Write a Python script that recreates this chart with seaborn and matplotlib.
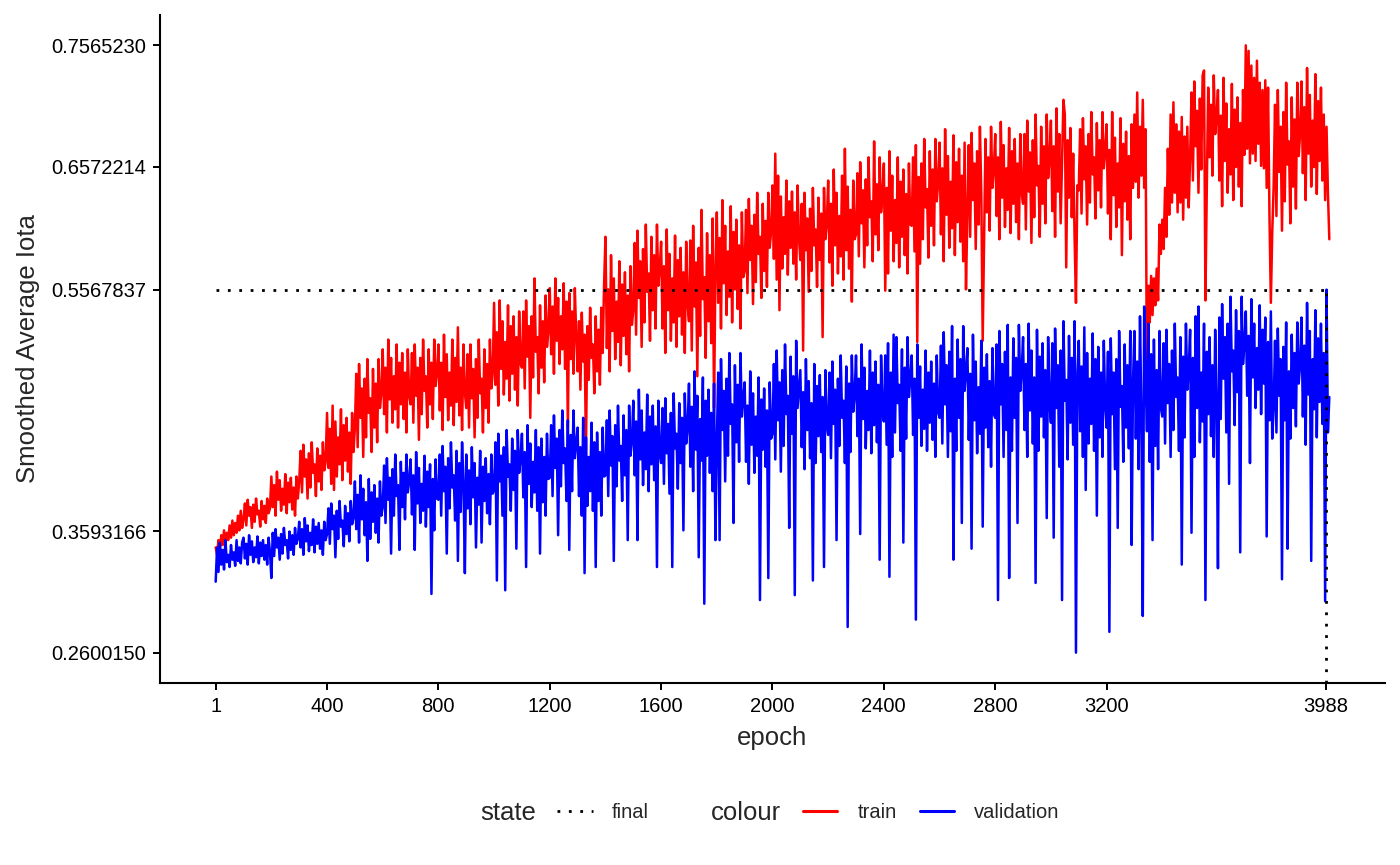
import numpy as np
import pandas as pd
import matplotlib
matplotlib.use('Agg')
import matplotlib.pyplot as plt
import seaborn as sns
from matplotlib.lines import Line2D

# values, one row per 100 epochs (20 readings each)
train_iota = [
    0.346, 0.340, 0.352, 0.344, 0.356, 0.348, 0.360, 0.350, 0.358, 0.352, 0.364, 0.354, 0.368, 0.356, 0.366, 0.358, 0.372, 0.360, 0.376, 0.362,
    0.369, 0.382, 0.364, 0.385, 0.372, 0.379, 0.362, 0.381, 0.367, 0.386, 0.373, 0.376, 0.363, 0.384, 0.369, 0.380, 0.366, 0.386, 0.374, 0.378,
    0.404, 0.379, 0.397, 0.372, 0.408, 0.385, 0.401, 0.376, 0.394, 0.381, 0.406, 0.374, 0.399, 0.383, 0.403, 0.377, 0.395, 0.372, 0.404, 0.386,
    0.400, 0.425, 0.391, 0.430, 0.404, 0.418, 0.386, 0.423, 0.395, 0.432, 0.407, 0.414, 0.388, 0.427, 0.400, 0.421, 0.393, 0.432, 0.409, 0.416,
    0.456, 0.411, 0.443, 0.398, 0.462, 0.393, 0.449, 0.404, 0.436, 0.414, 0.459, 0.401, 0.446, 0.417, 0.452, 0.408, 0.440, 0.398, 0.456, 0.424,
    0.444, 0.488, 0.428, 0.496, 0.452, 0.476, 0.420, 0.484, 0.436, 0.500, 0.456, 0.468, 0.424, 0.492, 0.444, 0.480, 0.432, 0.500, 0.460, 0.472,
    0.508, 0.455, 0.493, 0.440, 0.516, 0.467, 0.501, 0.448, 0.486, 0.459, 0.512, 0.444, 0.497, 0.463, 0.505, 0.451, 0.489, 0.440, 0.508, 0.470,
    0.463, 0.505, 0.448, 0.512, 0.470, 0.493, 0.434, 0.501, 0.455, 0.516, 0.474, 0.486, 0.444, 0.508, 0.463, 0.497, 0.451, 0.516, 0.478, 0.489,
    0.512, 0.458, 0.497, 0.442, 0.520, 0.469, 0.504, 0.450, 0.489, 0.462, 0.516, 0.446, 0.501, 0.465, 0.526, 0.454, 0.493, 0.442, 0.512, 0.473,
    0.460, 0.504, 0.444, 0.512, 0.468, 0.492, 0.436, 0.500, 0.452, 0.516, 0.472, 0.484, 0.440, 0.508, 0.460, 0.496, 0.448, 0.516, 0.476, 0.488,
    0.546, 0.479, 0.522, 0.462, 0.548, 0.492, 0.531, 0.471, 0.514, 0.484, 0.544, 0.466, 0.527, 0.488, 0.535, 0.475, 0.518, 0.462, 0.539, 0.496,
    0.493, 0.539, 0.476, 0.548, 0.502, 0.527, 0.452, 0.535, 0.485, 0.566, 0.506, 0.518, 0.472, 0.544, 0.493, 0.531, 0.481, 0.552, 0.510, 0.523,
    0.558, 0.504, 0.543, 0.488, 0.566, 0.515, 0.550, 0.496, 0.535, 0.508, 0.562, 0.492, 0.547, 0.444, 0.554, 0.500, 0.539, 0.488, 0.558, 0.519,
    0.490, 0.531, 0.475, 0.538, 0.498, 0.520, 0.426, 0.527, 0.483, 0.542, 0.501, 0.512, 0.472, 0.535, 0.490, 0.524, 0.479, 0.542, 0.505, 0.560,
    0.600, 0.509, 0.557, 0.490, 0.585, 0.523, 0.566, 0.500, 0.547, 0.514, 0.580, 0.495, 0.561, 0.519, 0.571, 0.504, 0.552, 0.490, 0.576, 0.528,
    0.540, 0.595, 0.520, 0.605, 0.550, 0.580, 0.510, 0.590, 0.530, 0.610, 0.555, 0.570, 0.515, 0.600, 0.540, 0.585, 0.525, 0.610, 0.560, 0.575,
    0.596, 0.525, 0.576, 0.505, 0.606, 0.540, 0.586, 0.515, 0.566, 0.530, 0.601, 0.510, 0.581, 0.535, 0.591, 0.520, 0.571, 0.505, 0.596, 0.545,
    0.531, 0.597, 0.507, 0.609, 0.543, 0.579, 0.486, 0.591, 0.519, 0.622, 0.549, 0.567, 0.501, 0.603, 0.531, 0.585, 0.513, 0.615, 0.460, 0.573,
    0.620, 0.546, 0.599, 0.525, 0.630, 0.562, 0.609, 0.536, 0.588, 0.551, 0.625, 0.530, 0.604, 0.557, 0.614, 0.541, 0.593, 0.525, 0.620, 0.567,
    0.572, 0.622, 0.554, 0.631, 0.581, 0.609, 0.545, 0.618, 0.563, 0.636, 0.586, 0.600, 0.550, 0.627, 0.572, 0.613, 0.559, 0.636, 0.591, 0.604,
    0.642, 0.582, 0.668, 0.565, 0.650, 0.540, 0.633, 0.574, 0.616, 0.586, 0.646, 0.569, 0.629, 0.591, 0.637, 0.578, 0.620, 0.565, 0.642, 0.599,
    0.581, 0.627, 0.507, 0.636, 0.589, 0.615, 0.555, 0.623, 0.572, 0.640, 0.593, 0.606, 0.559, 0.632, 0.581, 0.619, 0.518, 0.640, 0.598, 0.610,
    0.646, 0.579, 0.627, 0.560, 0.655, 0.593, 0.636, 0.570, 0.617, 0.584, 0.650, 0.565, 0.672, 0.589, 0.641, 0.574, 0.622, 0.547, 0.646, 0.598,
    0.602, 0.652, 0.584, 0.661, 0.611, 0.638, 0.575, 0.647, 0.593, 0.665, 0.616, 0.629, 0.580, 0.678, 0.602, 0.643, 0.589, 0.665, 0.620, 0.634,
    0.660, 0.556, 0.640, 0.570, 0.670, 0.605, 0.650, 0.580, 0.630, 0.595, 0.665, 0.575, 0.645, 0.600, 0.655, 0.585, 0.635, 0.570, 0.660, 0.610,
    0.609, 0.665, 0.588, 0.675, 0.514, 0.649, 0.578, 0.660, 0.598, 0.680, 0.624, 0.639, 0.583, 0.670, 0.609, 0.655, 0.593, 0.680, 0.629, 0.644,
    0.677, 0.602, 0.656, 0.580, 0.688, 0.618, 0.666, 0.591, 0.645, 0.607, 0.683, 0.585, 0.661, 0.612, 0.672, 0.596, 0.650, 0.580, 0.677, 0.557,
    0.620, 0.675, 0.600, 0.685, 0.630, 0.660, 0.590, 0.670, 0.610, 0.690, 0.635, 0.515, 0.595, 0.680, 0.620, 0.665, 0.605, 0.690, 0.640, 0.655,
    0.684, 0.617, 0.665, 0.598, 0.694, 0.632, 0.675, 0.608, 0.656, 0.622, 0.689, 0.603, 0.670, 0.627, 0.680, 0.612, 0.660, 0.598, 0.684, 0.636,
    0.627, 0.684, 0.606, 0.695, 0.637, 0.669, 0.595, 0.679, 0.616, 0.700, 0.642, 0.658, 0.600, 0.690, 0.627, 0.674, 0.611, 0.700, 0.648, 0.663,
    0.695, 0.621, 0.674, 0.600, 0.705, 0.637, 0.684, 0.611, 0.663, 0.712, 0.700, 0.575, 0.679, 0.632, 0.689, 0.616, 0.668, 0.600, 0.546, 0.642,
    0.638, 0.688, 0.619, 0.697, 0.647, 0.674, 0.610, 0.684, 0.628, 0.702, 0.651, 0.665, 0.615, 0.693, 0.638, 0.679, 0.624, 0.702, 0.656, 0.670,
    0.692, 0.619, 0.671, 0.598, 0.702, 0.634, 0.681, 0.608, 0.660, 0.624, 0.697, 0.585, 0.676, 0.629, 0.686, 0.614, 0.666, 0.598, 0.692, 0.640,
    0.700, 0.645, 0.718, 0.632, 0.690, 0.650, 0.712, 0.640, 0.688, 0.478, 0.560, 0.530, 0.568, 0.536, 0.566, 0.544, 0.574, 0.548, 0.610, 0.586,
    0.614, 0.590, 0.640, 0.600, 0.672, 0.618, 0.700, 0.628, 0.710, 0.636, 0.692, 0.620, 0.686, 0.628, 0.698, 0.614, 0.682, 0.632, 0.690, 0.624,
    0.665, 0.718, 0.646, 0.727, 0.674, 0.703, 0.636, 0.713, 0.655, 0.732, 0.736, 0.548, 0.641, 0.722, 0.665, 0.708, 0.650, 0.732, 0.684, 0.698,
    0.720, 0.646, 0.699, 0.625, 0.730, 0.662, 0.709, 0.636, 0.688, 0.651, 0.725, 0.630, 0.704, 0.657, 0.714, 0.641, 0.693, 0.625, 0.720, 0.667,
    0.756523, 0.672, 0.752, 0.660, 0.740, 0.668, 0.730, 0.662, 0.744, 0.676, 0.726, 0.658, 0.720, 0.656, 0.728, 0.640, 0.722, 0.618, 0.546, 0.604,
    0.641, 0.708, 0.617, 0.720, 0.653, 0.690, 0.605, 0.702, 0.629, 0.726, 0.659, 0.678, 0.611, 0.714, 0.641, 0.696, 0.623, 0.726, 0.666, 0.684,
    0.727, 0.652, 0.706, 0.630, 0.738, 0.668, 0.716, 0.641, 0.695, 0.657, 0.733, 0.635, 0.711, 0.662, 0.722, 0.646, 0.700, 0.630, 0.690, 0.636,
    0.598,
]

validation_iota = [
    0.318, 0.346, 0.326, 0.350, 0.332, 0.344, 0.328, 0.352, 0.334, 0.340, 0.330, 0.348, 0.336, 0.342, 0.331, 0.352, 0.335, 0.346, 0.333, 0.350,
    0.354, 0.337, 0.349, 0.332, 0.356, 0.340, 0.351, 0.334, 0.346, 0.338, 0.355, 0.333, 0.350, 0.339, 0.352, 0.336, 0.348, 0.332, 0.354, 0.342,
    0.321, 0.358, 0.339, 0.361, 0.346, 0.354, 0.336, 0.357, 0.341, 0.362, 0.348, 0.352, 0.337, 0.359, 0.344, 0.356, 0.340, 0.362, 0.349, 0.353,
    0.367, 0.346, 0.361, 0.340, 0.370, 0.351, 0.364, 0.343, 0.358, 0.348, 0.369, 0.342, 0.363, 0.349, 0.366, 0.345, 0.360, 0.340, 0.367, 0.352,
    0.357, 0.378, 0.349, 0.382, 0.361, 0.372, 0.338, 0.376, 0.353, 0.384, 0.363, 0.368, 0.347, 0.380, 0.357, 0.374, 0.351, 0.384, 0.365, 0.370,
    0.400, 0.361, 0.389, 0.350, 0.405, 0.369, 0.394, 0.356, 0.383, 0.335, 0.402, 0.353, 0.391, 0.367, 0.397, 0.358, 0.386, 0.350, 0.400, 0.372,
    0.379, 0.413, 0.366, 0.419, 0.385, 0.403, 0.341, 0.410, 0.372, 0.422, 0.388, 0.397, 0.344, 0.416, 0.379, 0.407, 0.369, 0.422, 0.391, 0.400,
    0.418, 0.373, 0.405, 0.344, 0.424, 0.382, 0.411, 0.366, 0.398, 0.376, 0.421, 0.363, 0.408, 0.379, 0.414, 0.308, 0.402, 0.360, 0.418, 0.386,
    0.385, 0.422, 0.372, 0.429, 0.392, 0.412, 0.341, 0.419, 0.378, 0.432, 0.395, 0.405, 0.368, 0.425, 0.335, 0.415, 0.375, 0.432, 0.399, 0.325,
    0.422, 0.378, 0.409, 0.365, 0.428, 0.387, 0.415, 0.346, 0.403, 0.381, 0.425, 0.350, 0.412, 0.384, 0.419, 0.374, 0.406, 0.365, 0.422, 0.390,
    0.393, 0.432, 0.319, 0.439, 0.400, 0.421, 0.372, 0.428, 0.311, 0.442, 0.404, 0.414, 0.376, 0.435, 0.393, 0.425, 0.345, 0.442, 0.407, 0.418,
    0.439, 0.387, 0.424, 0.330, 0.446, 0.398, 0.431, 0.379, 0.416, 0.391, 0.442, 0.376, 0.428, 0.341, 0.435, 0.383, 0.420, 0.372, 0.439, 0.402,
    0.403, 0.446, 0.388, 0.454, 0.411, 0.435, 0.356, 0.442, 0.396, 0.458, 0.415, 0.427, 0.384, 0.450, 0.344, 0.438, 0.392, 0.458, 0.419, 0.431,
    0.444, 0.388, 0.428, 0.372, 0.452, 0.325, 0.436, 0.380, 0.420, 0.392, 0.448, 0.376, 0.432, 0.330, 0.440, 0.384, 0.424, 0.372, 0.444, 0.404,
    0.405, 0.450, 0.388, 0.458, 0.413, 0.437, 0.335, 0.446, 0.396, 0.462, 0.417, 0.429, 0.384, 0.454, 0.405, 0.442, 0.352, 0.462, 0.421, 0.433,
    0.466, 0.405, 0.449, 0.352, 0.475, 0.418, 0.458, 0.397, 0.440, 0.410, 0.471, 0.392, 0.453, 0.414, 0.462, 0.401, 0.445, 0.330, 0.466, 0.423,
    0.415, 0.460, 0.398, 0.468, 0.423, 0.447, 0.390, 0.456, 0.330, 0.472, 0.427, 0.439, 0.394, 0.464, 0.415, 0.452, 0.360, 0.472, 0.431, 0.443,
    0.480, 0.412, 0.461, 0.392, 0.490, 0.426, 0.470, 0.338, 0.451, 0.417, 0.485, 0.300, 0.466, 0.421, 0.475, 0.407, 0.456, 0.392, 0.480, 0.352,
    0.432, 0.489, 0.352, 0.500, 0.442, 0.474, 0.400, 0.484, 0.421, 0.505, 0.447, 0.463, 0.366, 0.495, 0.432, 0.479, 0.416, 0.505, 0.453, 0.468,
    0.481, 0.416, 0.462, 0.398, 0.490, 0.430, 0.472, 0.407, 0.453, 0.421, 0.485, 0.303, 0.467, 0.426, 0.476, 0.412, 0.458, 0.321, 0.481, 0.435,
    0.439, 0.496, 0.418, 0.507, 0.450, 0.481, 0.408, 0.491, 0.429, 0.512, 0.455, 0.470, 0.362, 0.502, 0.439, 0.486, 0.307, 0.515, 0.460, 0.476,
    0.491, 0.428, 0.473, 0.410, 0.500, 0.442, 0.482, 0.419, 0.464, 0.319, 0.496, 0.415, 0.478, 0.437, 0.487, 0.424, 0.469, 0.330, 0.491, 0.446,
    0.438, 0.489, 0.419, 0.498, 0.447, 0.475, 0.352, 0.484, 0.429, 0.503, 0.452, 0.466, 0.415, 0.494, 0.281, 0.480, 0.424, 0.503, 0.457, 0.470,
    0.503, 0.437, 0.484, 0.357, 0.512, 0.451, 0.493, 0.427, 0.474, 0.442, 0.507, 0.423, 0.489, 0.446, 0.498, 0.432, 0.479, 0.336, 0.503, 0.456,
    0.449, 0.503, 0.430, 0.513, 0.322, 0.489, 0.420, 0.520, 0.440, 0.518, 0.464, 0.479, 0.425, 0.508, 0.350, 0.493, 0.435, 0.518, 0.469, 0.484,
    0.503, 0.438, 0.484, 0.287, 0.512, 0.452, 0.494, 0.429, 0.475, 0.443, 0.507, 0.425, 0.489, 0.448, 0.498, 0.434, 0.480, 0.420, 0.503, 0.457,
    0.452, 0.511, 0.431, 0.522, 0.463, 0.495, 0.420, 0.506, 0.441, 0.527, 0.336, 0.484, 0.425, 0.516, 0.452, 0.500, 0.366, 0.527, 0.474, 0.490,
    0.509, 0.434, 0.488, 0.345, 0.520, 0.450, 0.498, 0.423, 0.477, 0.439, 0.515, 0.363, 0.493, 0.444, 0.504, 0.428, 0.482, 0.412, 0.509, 0.455,
    0.452, 0.512, 0.303, 0.523, 0.463, 0.496, 0.420, 0.506, 0.442, 0.528, 0.321, 0.485, 0.425, 0.517, 0.452, 0.501, 0.366, 0.528, 0.474, 0.490,
    0.518, 0.442, 0.496, 0.420, 0.529, 0.458, 0.507, 0.431, 0.485, 0.317, 0.524, 0.425, 0.502, 0.453, 0.513, 0.436, 0.491, 0.370, 0.518, 0.464,
    0.448, 0.513, 0.354, 0.525, 0.460, 0.495, 0.412, 0.507, 0.303, 0.531, 0.466, 0.483, 0.418, 0.519, 0.448, 0.501, 0.430, 0.531, 0.260015, 0.489,
    0.515, 0.441, 0.494, 0.420, 0.526, 0.393, 0.505, 0.431, 0.484, 0.447, 0.521, 0.425, 0.500, 0.372, 0.510, 0.436, 0.489, 0.420, 0.515, 0.462,
    0.444, 0.506, 0.277, 0.517, 0.455, 0.489, 0.410, 0.500, 0.362, 0.523, 0.461, 0.478, 0.416, 0.512, 0.444, 0.495, 0.427, 0.523, 0.348, 0.483,
    0.523, 0.435, 0.498, 0.410, 0.535, 0.454, 0.290, 0.543, 0.485, 0.441, 0.529, 0.416, 0.504, 0.352, 0.516, 0.429, 0.491, 0.410, 0.523, 0.460,
    0.453, 0.513, 0.431, 0.524, 0.464, 0.496, 0.420, 0.507, 0.442, 0.529, 0.469, 0.485, 0.425, 0.518, 0.332, 0.502, 0.436, 0.529, 0.475, 0.491,
    0.524, 0.358, 0.501, 0.420, 0.535, 0.460, 0.543, 0.432, 0.489, 0.449, 0.529, 0.303, 0.506, 0.455, 0.518, 0.437, 0.495, 0.420, 0.524, 0.466,
    0.329, 0.534, 0.451, 0.545, 0.484, 0.518, 0.440, 0.529, 0.398, 0.551, 0.490, 0.507, 0.446, 0.540, 0.473, 0.523, 0.342, 0.551, 0.496, 0.512,
    0.539, 0.470, 0.519, 0.415, 0.549, 0.485, 0.529, 0.460, 0.509, 0.475, 0.544, 0.455, 0.524, 0.480, 0.534, 0.355, 0.514, 0.450, 0.539, 0.435,
    0.460, 0.515, 0.440, 0.525, 0.470, 0.500, 0.320, 0.510, 0.450, 0.530, 0.345, 0.490, 0.435, 0.520, 0.460, 0.505, 0.445, 0.530, 0.480, 0.495,
    0.534, 0.453, 0.511, 0.430, 0.546, 0.471, 0.523, 0.335, 0.500, 0.459, 0.540, 0.436, 0.517, 0.465, 0.529, 0.447, 0.505, 0.302, 0.5567837, 0.440,
    0.469,
]

first_epoch = 1
last_epoch = 4000
final_epoch = 3988
final_iota = 0.5567837
x_ticks = [1, 400, 800, 1200, 1600, 2000, 2400, 2800, 3200, 3988]
y_ticks = [0.2600150, 0.3593166, 0.5567837, 0.6572214, 0.7565230]

# long table for seaborn (readings are evenly spaced over the run)
train_epoch = np.linspace(first_epoch, last_epoch, len(train_iota))
val_epoch = np.linspace(first_epoch, last_epoch, len(validation_iota))
df = pd.DataFrame({
    'epoch': np.concatenate([train_epoch, val_epoch]),
    'iota': train_iota + validation_iota,
    'colour': ['train'] * len(train_iota) + ['validation'] * len(validation_iota),
})
print(len(train_iota), len(validation_iota))

sns.set_theme(style='ticks')
plt.rcParams['font.family'] = ['Liberation Sans', 'DejaVu Sans']

fig, ax = plt.subplots(figsize=(14, 8.65), dpi=100)
fig.subplots_adjust(left=160 / 1400, right=1385 / 1400, top=1 - 15 / 865, bottom=1 - 683 / 865)

palette = {'train': '#FF0000', 'validation': '#0000FF'}
sns.lineplot(data=df, x='epoch', y='iota', hue='colour', palette=palette,
             estimator=None, sort=False, linewidth=1.8, legend=False, ax=ax)

# ggplot style 5% expansion
y_lo, y_hi = df['iota'].min(), df['iota'].max()
x_pad = 0.05 * (last_epoch - first_epoch)
y_pad = 0.05 * (y_hi - y_lo)
ax.set_xlim(first_epoch - x_pad, last_epoch + x_pad)
ax.set_ylim(y_lo - y_pad, y_hi + y_pad)

# final state marker lines
dotted = (0, (1, 3.1))
ax.plot([first_epoch, final_epoch], [final_iota, final_iota], color='black', lw=2, linestyle=dotted)
ax.plot([final_epoch, final_epoch], [y_lo - y_pad, final_iota], color='black', lw=2, linestyle=dotted)

ax.set_xticks(x_ticks)
ax.set_xticklabels([str(t) for t in x_ticks])
ax.set_yticks(y_ticks)
ax.set_yticklabels([f'{t:.7f}' for t in y_ticks])
ax.tick_params(axis='both', direction='out', length=5, width=1.4, colors='black',
               labelsize=14.5, pad=5)

sns.despine(ax=ax)
for side in ['left', 'bottom']:
    ax.spines[side].set_linewidth(1.5)
    ax.spines[side].set_color('black')

ax.set_xlabel('epoch', fontsize=18.5, labelpad=7)
ax.set_ylabel('Smoothed Average Iota', fontsize=18.5, labelpad=8)

# legend row at the bottom
leg_y = 1 - 813 / 865
fig.text(480 / 1400, leg_y, 'state', fontsize=18.5, va='center', ha='left')
fig.legend(handles=[Line2D([], [], color='black', lw=2, linestyle=dotted)], labels=['final'],
           loc='center left', bbox_to_anchor=(557 / 1400, leg_y), frameon=False,
           fontsize=14.5, handlelength=1.8, handletextpad=0.9, borderpad=0, borderaxespad=0)
fig.text(711 / 1400, leg_y, 'colour', fontsize=18.5, va='center', ha='left')
fig.legend(handles=[Line2D([], [], color=palette['train'], lw=2.2),
                    Line2D([], [], color=palette['validation'], lw=2.2)],
           labels=['train', 'validation'], ncol=2,
           loc='center left', bbox_to_anchor=(803 / 1400, leg_y), frameon=False,
           fontsize=14.5, handlelength=1.7, handletextpad=1.0, columnspacing=1.15,
           borderpad=0, borderaxespad=0)

plt.savefig('out.png', dpi=100)
